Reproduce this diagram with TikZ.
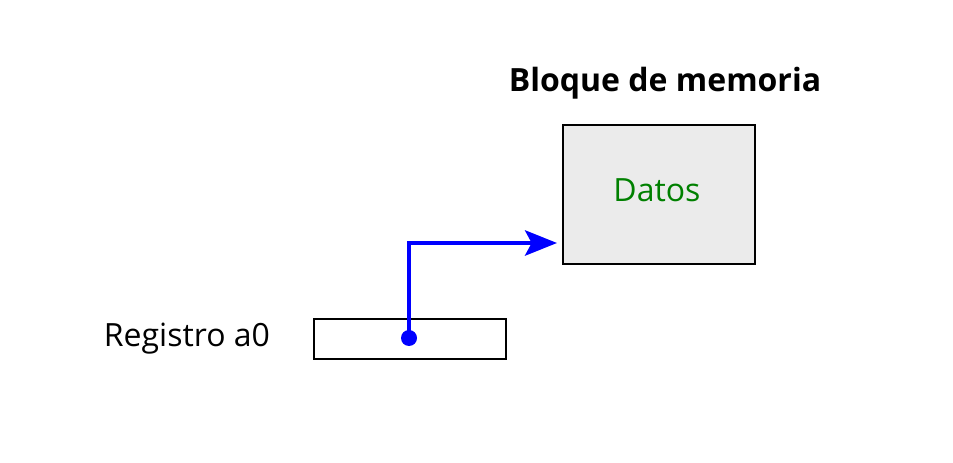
\documentclass[tikz,border=0pt]{standalone}
\usepackage{fontspec}
\setmainfont{Open Sans}
\definecolor{datgreen}{RGB}{0,128,0}
\definecolor{blockgray}{RGB}{235,235,235}
\tikzset{
  regbox/.style={draw=black, line width=1.1pt, minimum width=144pt, minimum height=30pt, inner sep=0pt},
  memblock/.style={draw=black, fill=blockgray, line width=1.1pt, minimum width=144pt, minimum height=104pt, inner sep=0pt},
  pointer/.style={blue, line width=3pt, -{Stealth[length=24pt,width=19pt,inset=5pt]}},
  txt/.style={font=\fontsize{24}{28}\selectfont, inner sep=0pt},
}
\usetikzlibrary{arrows.meta}
\begin{document}
\begin{tikzpicture}[x=0.75pt,y=-0.75pt]
   \useasboundingbox (0,0) rectangle (953,463);
   \node[regbox] (reg) at (410,339) {};
   \node[txt] (reglabel) at (187,339) {Registro a0};
   \node[memblock] (mem) at (659,194.5) {};
   \node[txt, text=datgreen] (datos) at (657,190) {Datos};
   \node[txt, font=\fontsize{24}{28}\selectfont\bfseries] (title) at (665,83) {Bloque de memoria};
   \coordinate (src) at (409,338);
   \coordinate (bend) at (409,243);
   \coordinate (dst) at (557,243);
   \draw[pointer] (src) -- (bend) -- (dst);
   \fill[blue] (src) circle (6pt);
\end{tikzpicture}
\end{document}
